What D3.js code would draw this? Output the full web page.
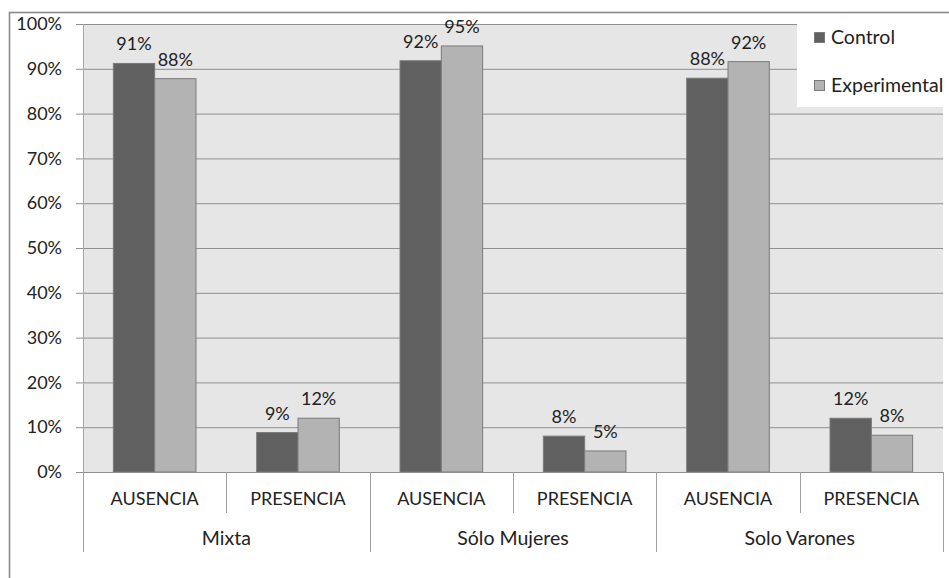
<!DOCTYPE html>
<html>
<head>
<meta charset="utf-8">
<script src="https://cdn.jsdelivr.net/npm/d3@7"></script>
<style>
  html, body { margin: 0; padding: 0; background: #ffffff; }
  svg { display: block; }
  text { font-family: Lato, "Open Sans", sans-serif; fill: #222222; }
</style>
</head>
<body>
<svg id="chart" width="949" height="578"></svg>
<script>
// ---- data ----
const groups = ["Mixta", "Sólo Mujeres", "Solo Varones"];
const subcats = ["AUSENCIA", "PRESENCIA"];
const seriesNames = ["Control", "Experimental"];
const control = [91.2, 8.8, 91.8, 8.0, 87.9, 12.0];
const experimental = [87.8, 12.0, 95.1, 4.7, 91.6, 8.2];
const yTicks = [0, 0.1, 0.2, 0.3, 0.4, 0.5, 0.6, 0.7, 0.8, 0.9, 1.0];

// ---- build table ----
const cats = [];
groups.forEach((g, gi) => subcats.forEach((s, si) => cats.push({ key: g + "|" + s, group: g, sub: s, idx: gi * subcats.length + si })));
const seriesVals = [control, experimental];
const colors = ["#606060", "#b3b3b3"];

const svg = d3.select("#chart");
const W = 949, H = 578;
const plot = { left: 83, right: 943, top: 24, bottom: 472 };

// outer chart border
svg.append("rect")
  .attr("x", 9.5).attr("y", 12.5)
  .attr("width", W + 20).attr("height", H + 20)
  .attr("fill", "#ffffff").attr("stroke", "#8a8a8a").attr("stroke-width", 1.6);

const x0 = d3.scaleBand().domain(cats.map(d => d.key)).range([plot.left, plot.right]).paddingInner(0).paddingOuter(0);
const x1 = d3.scaleBand().domain(seriesNames).range([0, x0.bandwidth()]).paddingInner(0).paddingOuter(0.735);
const y = d3.scaleLinear().domain([0, 1]).range([plot.bottom, plot.top]);

// plot background
svg.append("rect")
  .attr("x", plot.left).attr("y", plot.top)
  .attr("width", plot.right - plot.left).attr("height", plot.bottom - plot.top)
  .attr("fill", "#e6e6e6");

// gridlines
svg.append("g")
  .attr("transform", `translate(${plot.left},0)`)
  .call(d3.axisLeft(y).tickValues(yTicks).tickSize(-(plot.right - plot.left)).tickFormat(""))
  .call(g => g.select(".domain").remove())
  .call(g => g.selectAll("line").attr("stroke", "#8f8f8f").attr("stroke-width", 1));

// y axis
svg.append("g")
  .attr("transform", `translate(${plot.left},0)`)
  .call(d3.axisLeft(y).tickValues(yTicks).tickFormat(d3.format(".0%")).tickSize(7).tickPadding(14))
  .call(g => g.select(".domain").attr("stroke", "#a6a6a6"))
  .call(g => g.selectAll(".tick line").attr("stroke", "#8f8f8f"))
  .call(g => g.selectAll("text").attr("font-size", 18).attr("font-family", "Lato, sans-serif").attr("fill", "#222222"));

// bars
seriesNames.forEach((s, si) => {
  const vals = seriesVals[si];
  svg.append("g").selectAll("rect").data(cats).join("rect")
    .attr("x", d => x0(d.key) + x1(s))
    .attr("y", d => y(vals[d.idx] / 100))
    .attr("width", x1.bandwidth())
    .attr("height", d => y(0) - y(vals[d.idx] / 100))
    .attr("fill", colors[si])
    .attr("stroke", "#7a7a7a").attr("stroke-width", 1);
  svg.append("g").selectAll("text").data(cats).join("text")
    .attr("x", d => x0(d.key) + x1(s) + x1.bandwidth() / 2)
    .attr("y", d => y(vals[d.idx] / 100) - 13)
    .attr("text-anchor", "middle")
    .attr("font-size", 18)
    .text(d => Math.round(vals[d.idx]) + "%");
});

// category axis (two levels)
const axisG = svg.append("g");
const lineColor = "#a0a0a0";
axisG.append("line").attr("x1", plot.left).attr("x2", plot.right).attr("y1", plot.bottom + 0.5).attr("y2", plot.bottom + 0.5).attr("stroke", "#8f8f8f");
cats.forEach((d, i) => {
  const xs = x0(d.key);
  const isGroupStart = i % subcats.length === 0;
  axisG.append("line")
    .attr("x1", Math.round(xs) + 0.5).attr("x2", Math.round(xs) + 0.5)
    .attr("y1", plot.bottom).attr("y2", isGroupStart ? 552 : 513)
    .attr("stroke", lineColor);
  axisG.append("text")
    .attr("x", xs + x0.bandwidth() / 2).attr("y", 505)
    .attr("text-anchor", "middle").attr("font-size", 18)
    .text(d.sub);
});
axisG.append("line")
  .attr("x1", plot.right + 0.5).attr("x2", plot.right + 0.5)
  .attr("y1", plot.bottom).attr("y2", 552).attr("stroke", lineColor);
groups.forEach((g, gi) => {
  const first = x0(cats[gi * subcats.length].key);
  const last = x0(cats[gi * subcats.length + subcats.length - 1].key) + x0.bandwidth();
  axisG.append("text")
    .attr("x", (first + last) / 2).attr("y", 545)
    .attr("text-anchor", "middle").attr("font-size", 19.5)
    .text(g);
});

// legend
const leg = svg.append("g");
leg.append("rect").attr("x", 797).attr("y", 14).attr("width", 160).attr("height", 93).attr("fill", "#ffffff");
const legY = [38, 86];
seriesNames.forEach((s, si) => {
  leg.append("rect")
    .attr("x", 814.5).attr("y", legY[si] - 5.5)
    .attr("width", 10).attr("height", 10)
    .attr("fill", colors[si]).attr("stroke", "#7a7a7a").attr("stroke-width", 1);
  leg.append("text")
    .attr("x", 831).attr("y", legY[si] + 6)
    .attr("font-size", 19.5)
    .text(s);
});
</script>
</body>
</html>
